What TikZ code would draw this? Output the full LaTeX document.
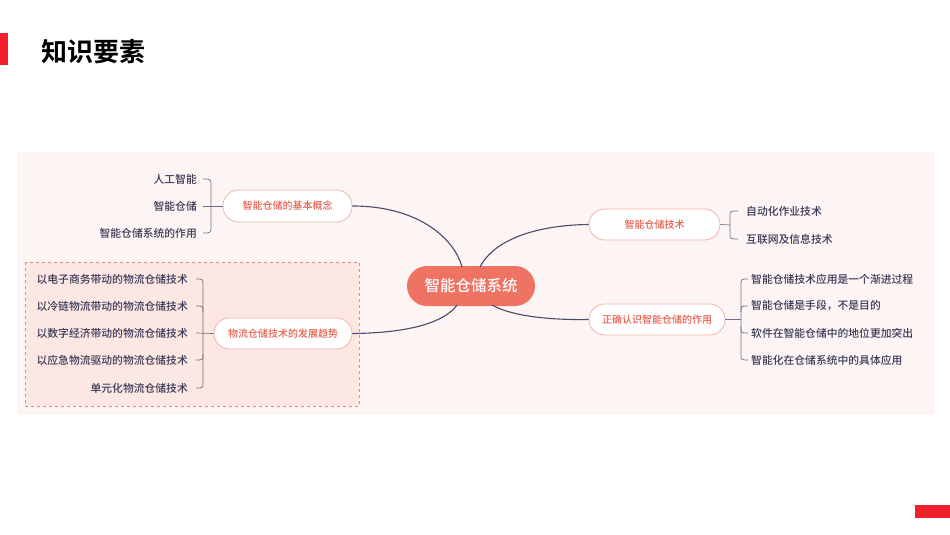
\documentclass[tikz,border=0pt]{standalone}
\usepackage{fontspec}
\setmainfont{Noto Sans CJK SC}
\newfontfamily\boldcjk{Noto Sans CJK SC Bold}
\newfontfamily\medcjk{Noto Sans CJK SC Medium}
\begin{document}
\begin{tikzpicture}[x=1pt,y=-1pt,
  br/.style={rounded corners=15.5pt,draw=brd,fill=white,line width=0.8pt,text=redtxt,font=\medcjk\fontsize{10}{11}\selectfont,inner sep=0pt},
  leaf/.style={text=leaftxt,font=\medcjk\fontsize{10.8}{12}\selectfont,inner sep=1pt},
  conn/.style={draw=navy,line width=1.1pt},
  brk/.style={draw=navy!80,line width=0.7pt}]
\definecolor{redm}{HTML}{EF7362}
\definecolor{brd}{HTML}{F2B5AA}
\definecolor{redtxt}{HTML}{E8604E}
\definecolor{leaftxt}{HTML}{3A3A58}
\definecolor{navy}{HTML}{4A4A6E}
\definecolor{panel}{HTML}{FDF5F3}
\definecolor{dbox}{HTML}{FCE7E3}
\definecolor{dbrd}{HTML}{E8897C}
\definecolor{barred}{HTML}{F0202C}
\useasboundingbox (0,0) rectangle (950,535);
\fill[white] (0,0) rectangle (950,535);
\fill[barred] (0,33) rectangle (8,65);
\fill[barred] (915,505) rectangle (950,518);
\node[anchor=west,font=\boldcjk\fontsize{26}{28}\selectfont,inner sep=0pt] (title) at (41,52) {知识要素};
\fill[panel] (17,152) rectangle (935,415);
\draw[dbrd,fill=dbox,dashed,line width=0.8pt] (25,262) rectangle (359,406);
% center
\node[rounded corners=20pt,fill=redm,text=white,minimum width=128pt,minimum height=40pt,font=\medcjk\fontsize{15.5}{16}\selectfont,inner sep=0pt] (c) at (471,286) {智能仓储系统};
% branches
\node[br,minimum width=129pt,minimum height=32pt] (b1) at (287.5,206) {智能仓储的基本概念};
\node[br,minimum width=138pt,minimum height=31pt] (b2) at (283,333.5) {物流仓储技术的发展趋势};
\node[br,minimum width=131pt,minimum height=31pt] (b3) at (654.5,224.5) {智能仓储技术};
\node[br,minimum width=136pt,minimum height=31pt] (b4) at (657,319.5) {正确认识智能仓储的作用};
% connectors
\draw[conn] (b1.east) .. controls (420,206) and (455,240) .. (462,267);
\draw[conn] (b2.east) .. controls (410,333) and (445,322) .. (457,305);
\draw[conn] (480,267) .. controls (495,238) and (540,225) .. (b3.west);
\draw[conn] (492,305) .. controls (515,318) and (560,320) .. (b4.west);
% leaves
\node[leaf,anchor=east] (l11) at (198,179) {人工智能};
\node[leaf,anchor=east] (l12) at (198,206) {智能仓储};
\node[leaf,anchor=east] (l13) at (198,233) {智能仓储系统的作用};
\node[leaf,anchor=east] (l21) at (189,279) {以电子商务带动的物流仓储技术};
\node[leaf,anchor=east] (l22) at (189,306) {以冷链物流带动的物流仓储技术};
\node[leaf,anchor=east] (l23) at (189,333) {以数字经济带动的物流仓储技术};
\node[leaf,anchor=east] (l24) at (189,360) {以应急物流驱动的物流仓储技术};
\node[leaf,anchor=east] (l25) at (189,388) {单元化物流仓储技术};
\node[leaf,anchor=west] (l31) at (745,211) {自动化作业技术};
\node[leaf,anchor=west] (l32) at (745,239) {互联网及信息技术};
\node[leaf,anchor=west] (l41) at (750,279) {智能仓储技术应用是一个渐进过程};
\node[leaf,anchor=west] (l42) at (750,306) {智能仓储是手段，不是目的};
\node[leaf,anchor=west] (l43) at (750,333) {软件在智能仓储中的地位更加突出};
\node[leaf,anchor=west] (l44) at (750,360) {智能化在仓储系统中的具体应用};
% brackets left
\draw[brk] (203,179) .. controls (211,179) .. (211,186) -- (211,226) .. controls (211,233) .. (203,233);
\draw[brk] (203,206) -- (b1.west);
\draw[brk] (196,279) .. controls (203,279) .. (203,285) -- (203,382) .. controls (203,388) .. (196,388);
\draw[brk] (196,306) .. controls (203,306) .. (203,312);
\draw[brk] (196,360) .. controls (203,360) .. (203,354);
\draw[brk] (196,333) -- (b2.west);
% right brackets
\draw[brk] (738,211) .. controls (730,211) .. (730,217) -- (730,233) .. controls (730,239) .. (738,239);
\draw[brk] (b3.east) -- (730,225);
\draw[brk] (748,279) .. controls (741,279) .. (741,285) -- (741,354) .. controls (741,360) .. (748,360);
\draw[brk] (748,306) .. controls (741,306) .. (741,312);
\draw[brk] (748,333) .. controls (741,333) .. (741,327);
\draw[brk] (b4.east) -- (741,319.5);
\end{tikzpicture}
\end{document}
